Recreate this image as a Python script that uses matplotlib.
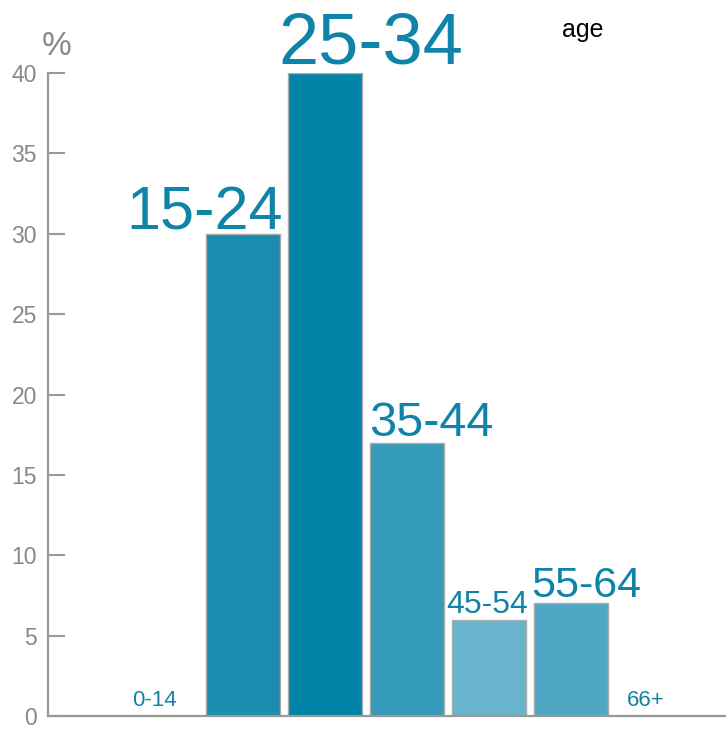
import matplotlib.pyplot as plt
import numpy as np

plt.rcParams['font.family'] = ['Liberation Sans', 'DejaVu Sans']

# age groups and share of people in %
categories = ['0-14', '15-24', '25-34', '35-44', '45-54', '55-64', '66+']
values = [0, 30, 40, 17, 6, 7, 0]

# styling per bar
bar_colors = ['#1a8daf', '#1a8daf', '#0083a7', '#349cb9', '#68b4cc', '#4ea8c3', '#4ea8c3']
label_sizes = [16, 44, 52, 35, 23, 31, 16]
label_ha = ['center', 'right', 'left', 'left', 'center', 'left', 'center']
label_dx = [-5, 2, -7, -1, -1, -2, -5]
label_dy = [7, 3, 7, 5, 5, 5, 7]

fig = plt.figure(figsize=(7.26, 7.33), dpi=100)
ax = fig.add_axes([48 / 726, 17 / 733, 1 - 48 / 726, (716 - 73) / 733])

x = np.arange(len(categories))
width = 0.9
ax.bar(x, values, width=width, color=bar_colors, edgecolor='#aaaaaa', linewidth=1)

for i, (cat, val) in enumerate(zip(categories, values)):
    if label_ha[i] == 'left':
        xa = x[i] - width / 2
    elif label_ha[i] == 'right':
        xa = x[i] + width / 2
    else:
        xa = x[i]
    ax.annotate(cat, (xa, val), xytext=(label_dx[i], label_dy[i]), textcoords='offset points',
                ha=label_ha[i], va='baseline', fontsize=label_sizes[i], color='#0f84a8',
                annotation_clip=False)

ax.set_xlim(-1.378, 6.89)
ax.set_ylim(0, 40)
ax.set_yticks(range(0, 41, 5))
ax.set_xticks([])
ax.tick_params(axis='y', direction='in', length=12, width=1.5, color='#999999',
               labelcolor='#888888', labelsize=16.5, pad=8)

for s in ['top', 'right']:
    ax.spines[s].set_visible(False)
ax.spines['left'].set_color('#999999')
ax.spines['left'].set_linewidth(1.6)
ax.spines['bottom'].set_color('#999999')
ax.spines['bottom'].set_linewidth(1.6)

fig.text(57 / 726, 1 - 55 / 733, '%', fontsize=24, color='#888888', ha='center', va='baseline')
fig.text(583 / 726, 1 - 37 / 733, 'age', fontsize=18, color='black', ha='center', va='baseline')

fig.savefig('out.png', dpi=100)
